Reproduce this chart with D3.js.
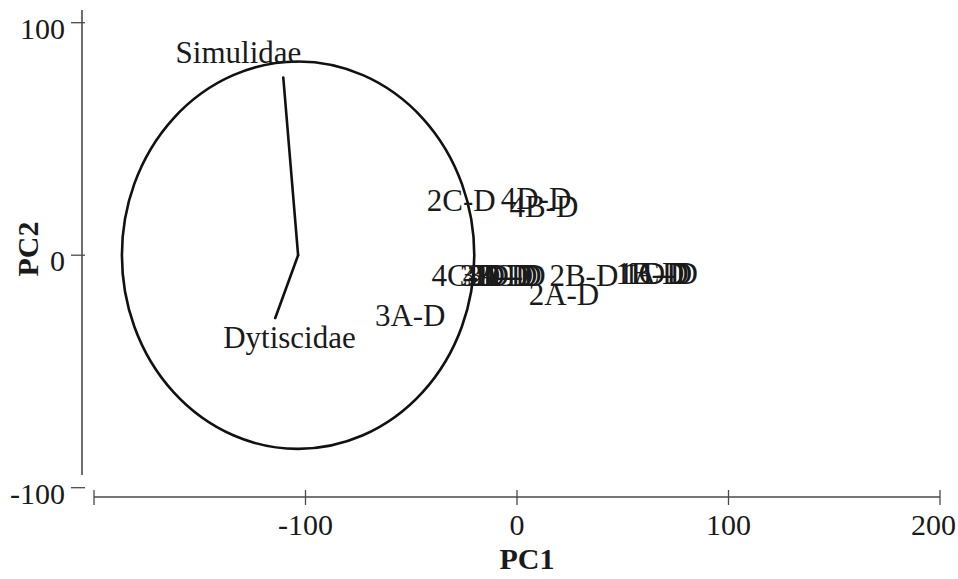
<!DOCTYPE html>
<html>
<head>
<meta charset="utf-8">
<script src="https://cdn.jsdelivr.net/npm/d3@7"></script>
<style>
  html, body { margin: 0; padding: 0; background: #fff; }
  svg { display: block; font-family: "Liberation Serif", "Times New Roman", serif; }
</style>
</head>
<body>
<svg id="chart" width="958" height="579"></svg>
<script>
// Site scores on the first two principal components
const sites = ["1A-D","1B-D","1C-D","1D-D","2A-D","2B-D","2C-D","2D-D",
               "3A-D","3B-D","3C-D","3D-D","4A-D","4B-D","4C-D","4D-D"];
const pc1 =   [64.5, 62.8, 66.5, 68.8, 22.2, 31.6, -26.4, -5.0,
               -50.5, -10.8, -2.8, -7.0, -9.0, 12.7, -24.1, 9.0];
const pc2 =   [-8.0, -8.0, -8.0, -8.0, -16.7, -8.6, 23.6, -8.6,
               -25.8, -8.6, -8.6, -8.6, -8.6, 21.0, -8.6, 24.5];

// Taxon loading vectors, drawn from the centre of the correlation circle
const circleCentre = [-103.5, 0];
const circleRadius = 83.3;
const taxa =      ["Simulidae", "Dytiscidae"];
const taxaEndX =  [-110.5, -114.3];
const taxaEndY =  [76.4, -27.0];
const taxaLabX =  [-131.7, -107.6];
const taxaLabY =  [87.1, -35.2];

// Axis ticks
const xTicks = [-200, -100, 0, 100, 200];
const xTickLabels = ["", "-100", "0", "100", "200"];
const yTicks = [-100, 0, 100];
const yTickLabels = ["-100", "0", "100"];

const W = 958;
const svg = d3.select("#chart");
const x = d3.scaleLinear().domain([-200, 200]).range([94, 940]);
const y = d3.scaleLinear().domain([-100, 100]).range([487.7, 22.7]);

const axisColor = "#4a4a4a";
const inkColor = "#1a1a1a";

// X axis: baseline with ticks crossing it
const xAxisY = 497;
const gx = svg.append("g");
gx.append("line")
  .attr("x1", x(-200)).attr("x2", x(200))
  .attr("y1", xAxisY).attr("y2", xAxisY)
  .attr("stroke", axisColor).attr("stroke-width", 1.6);
gx.selectAll("line.tick").data(xTicks).join("line")
  .attr("class", "tick")
  .attr("x1", d => x(d)).attr("x2", d => x(d))
  .attr("y1", xAxisY - 7).attr("y2", xAxisY + 8)
  .attr("stroke", axisColor).attr("stroke-width", 1.3);
gx.selectAll("text").data(xTicks).join("text")
  .attr("x", d => x(d)).attr("y", 535)
  .attr("text-anchor", "middle")
  .attr("font-size", 30).attr("fill", inkColor)
  .text((d, i) => xTickLabels[i])
  .each(function (d) {
    // keep the outermost label inside the page
    const w = this.getComputedTextLength();
    const right = x(d) + w / 2;
    if (right > W - 2) d3.select(this).attr("x", x(d) - (right - (W - 2)));
  });

// Y axis: vertical line with ticks on its left
const yAxisX = 82;
const gy = svg.append("g");
gy.append("line")
  .attr("x1", yAxisX).attr("x2", yAxisX)
  .attr("y1", 10).attr("y2", 475)
  .attr("stroke", axisColor).attr("stroke-width", 1.6);
gy.selectAll("line.tick").data(yTicks).join("line")
  .attr("class", "tick")
  .attr("x1", yAxisX - 11).attr("x2", yAxisX + 3)
  .attr("y1", d => y(d)).attr("y2", d => y(d))
  .attr("stroke", axisColor).attr("stroke-width", 1.3);
gy.selectAll("text").data(yTicks).join("text")
  .attr("x", 65).attr("y", d => y(d) + 16)
  .attr("text-anchor", "end")
  .attr("font-size", 30).attr("fill", inkColor)
  .text((d, i) => yTickLabels[i]);

// Axis titles
svg.append("text")
  .attr("x", 527).attr("y", 569)
  .attr("text-anchor", "middle")
  .attr("font-size", 30).attr("font-weight", "bold").attr("fill", inkColor)
  .text("PC1");
svg.append("text")
  .attr("transform", "translate(38,249) rotate(-90)")
  .attr("text-anchor", "middle")
  .attr("font-size", 30).attr("font-weight", "bold").attr("fill", inkColor)
  .text("PC2");

// Correlation circle
const cx = x(circleCentre[0]), cy = y(circleCentre[1]);
svg.append("ellipse")
  .attr("cx", cx).attr("cy", cy)
  .attr("rx", x(circleCentre[0] + circleRadius) - cx)
  .attr("ry", cy - y(circleCentre[1] + circleRadius))
  .attr("fill", "none").attr("stroke", "#111").attr("stroke-width", 2.6);

// Taxon vectors
svg.append("g").selectAll("line").data(taxa).join("line")
  .attr("x1", cx).attr("y1", cy)
  .attr("x2", (d, i) => x(taxaEndX[i]))
  .attr("y2", (d, i) => y(taxaEndY[i]))
  .attr("stroke", "#111").attr("stroke-width", 2.6)
  .attr("stroke-linecap", "round");
svg.append("g").selectAll("text").data(taxa).join("text")
  .attr("x", (d, i) => x(taxaLabX[i]))
  .attr("y", (d, i) => y(taxaLabY[i]))
  .attr("dy", "0.34em")
  .attr("text-anchor", "middle")
  .attr("font-size", 31).attr("fill", inkColor)
  .text(d => d);

// Site labels at their scores
svg.append("g").selectAll("text").data(sites).join("text")
  .attr("x", (d, i) => x(pc1[i]))
  .attr("y", (d, i) => y(pc2[i]))
  .attr("dy", "0.34em")
  .attr("text-anchor", "middle")
  .attr("font-size", 31).attr("fill", inkColor)
  .text(d => d);
</script>
</body>
</html>
